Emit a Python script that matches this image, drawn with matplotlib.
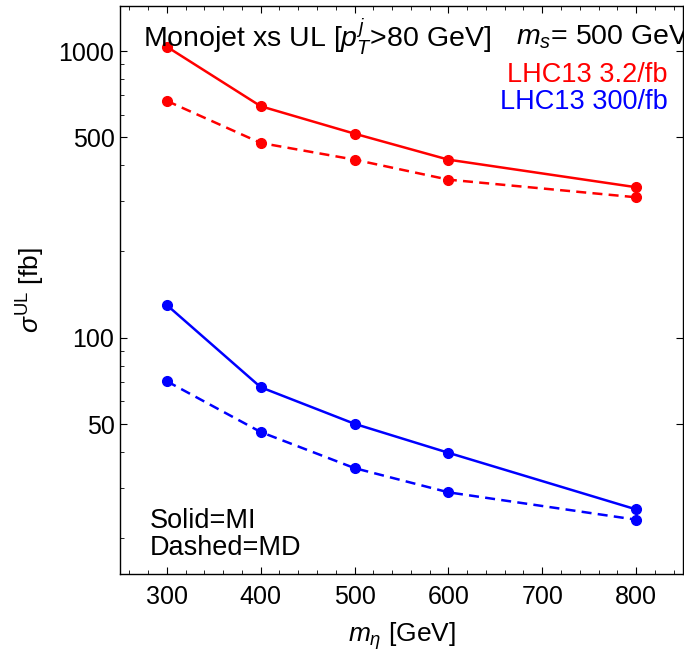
import matplotlib as mpl
mpl.use('Agg')
import matplotlib.pyplot as plt
from matplotlib.ticker import FixedLocator, NullFormatter

plt.rcParams['font.family'] = ['Liberation Sans', 'DejaVu Sans']
plt.rcParams['mathtext.fontset'] = 'custom'
plt.rcParams['mathtext.rm'] = 'Liberation Sans'
plt.rcParams['mathtext.it'] = 'Liberation Sans:italic'

# data
m_eta = [300, 400, 500, 600, 800]
lhc3_mi = [1035, 642, 515, 418, 335]
lhc3_md = [670, 478, 418, 356, 309]
lhc300_mi = [130, 67.2, 50.1, 39.7, 25.2]
lhc300_md = [70.5, 46.9, 35.1, 28.9, 23.2]

y_major = [50, 100, 500, 1000]
y_minor = [20, 30, 40, 60, 70, 80, 90, 200, 300, 400, 600, 700, 800, 900]

fig = plt.figure(figsize=(6.84, 6.58), dpi=100)
ax = fig.add_axes([0.1754, 0.1277, 0.8231, 0.8632])

dash = (0, (4, 2.5))
ax.plot(m_eta, lhc3_mi, '-o', color='red', lw=1.8, ms=7)
ax.plot(m_eta, lhc3_md, 'o', color='red', ls=dash, lw=1.8, ms=7)
ax.plot(m_eta, lhc300_mi, '-o', color='blue', lw=1.8, ms=7)
ax.plot(m_eta, lhc300_md, 'o', color='blue', ls=dash, lw=1.8, ms=7)

ax.set_yscale('log')
ax.set_xlim(250, 850)
ax.set_ylim(15, 1436)
ax.yaxis.set_major_locator(FixedLocator(y_major))
ax.yaxis.set_minor_locator(FixedLocator(y_minor))
ax.set_yticklabels([str(v) for v in y_major])
ax.yaxis.set_minor_formatter(NullFormatter())
ax.set_xticks([300, 400, 500, 600, 700, 800])
ax.set_xticks(range(260, 850, 20), minor=True)

ax.tick_params(which='both', direction='in', top=True, labelsize=18)
ax.tick_params(axis='y', which='major', right=True, length=5, pad=4)
ax.tick_params(axis='y', which='minor', right=False, length=3)
ax.tick_params(axis='x', which='major', length=5, pad=8)
ax.tick_params(axis='x', which='minor', length=3)
for s in ax.spines.values():
    s.set_linewidth(1.0)

ax.set_xlabel(r'$m_\eta$ [GeV]', fontsize=19, labelpad=8)
ax.set_ylabel(r'$\sigma^{\rm UL}$ [fb]', fontsize=19, labelpad=8)

ax.text(0.041, 0.945, r'Monojet xs UL [$p_T^j$>80 GeV]', transform=ax.transAxes,
        fontsize=20.5, va='center', ha='left')
ax.text(0.703, 0.945, r'$m_s$= 500 GeV', transform=ax.transAxes,
        fontsize=20.5, va='center', ha='left', clip_on=False)
ax.text(0.973, 0.878, 'LHC13 3.2/fb', transform=ax.transAxes, color='red',
        fontsize=19.5, va='center', ha='right')
ax.text(0.973, 0.831, 'LHC13 300/fb', transform=ax.transAxes, color='blue',
        fontsize=19.5, va='center', ha='right')
ax.text(0.053, 0.093, 'Solid=MI', transform=ax.transAxes, fontsize=19.5, va='center')
ax.text(0.053, 0.046, 'Dashed=MD', transform=ax.transAxes, fontsize=19.5, va='center')

plt.savefig('out.png', dpi=100)
